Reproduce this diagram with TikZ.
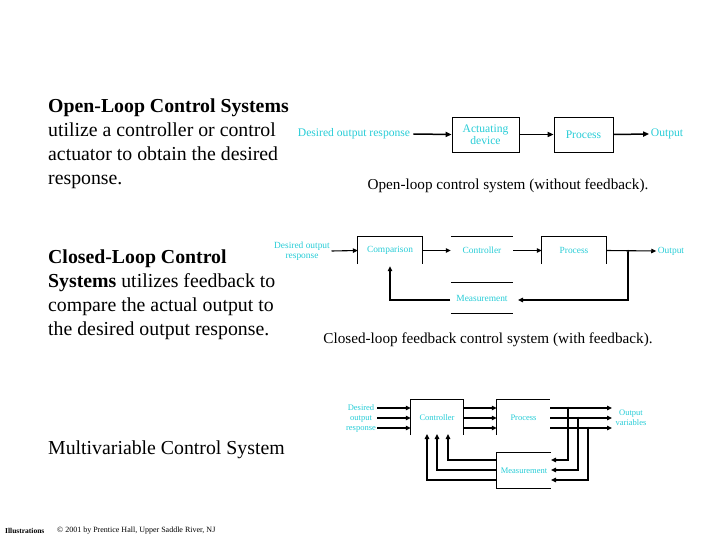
\documentclass[tikz,border=0pt]{standalone}
\usepackage{fontspec}
\setmainfont{Liberation Serif}
\usetikzlibrary{arrows.meta,calc}
\definecolor{lbl}{RGB}{40,205,215}
\begin{document}
\begin{tikzpicture}[x=1pt,y=-1pt,
  para/.style={anchor=north west,inner sep=0pt,align=left,font=\fontsize{19.8}{24}\selectfont},
  lab/.style={text=lbl,inner sep=1.5pt,align=center},
  labA/.style={lab,font=\fontsize{11.6}{12}\selectfont},
  labB/.style={lab,font=\fontsize{9.4}{10}\selectfont},
  labC/.style={lab,font=\fontsize{8.5}{10}\selectfont},
  captxt/.style={inner sep=0pt,font=\fontsize{15.2}{16}\selectfont},
  blk/.style={inner sep=0pt},
  arr/.style={line width=1.5pt,-{Triangle[length=6pt,width=5pt]}},
  arrt/.style={line width=1.1pt,-{Triangle[length=5pt,width=4.5pt]}},
  arrT/.style={line width=1.8pt,-{Triangle[length=5pt,width=4.5pt]}},
  bord/.style={line width=0.7pt},
  dotc/.style={circle,fill,inner sep=0pt,minimum size=3pt}
]
\useasboundingbox[fill=white] (0,0) rectangle (720,540);

% ---------- left texts ----------
\node[para] (t1) at (48,98.5) {\textbf{Open-Loop Control Systems}\\utilize a controller or control\\actuator to obtain the desired\\response.};
\node[para] (t2) at (48,249.5) {\textbf{Closed-Loop Control}\\\textbf{Systems} utilizes feedback to\\compare the actual output to\\the desired output response.};
\node[para] (t3) at (48,440.5) {Multivariable Control System};

% ---------- open loop ----------
\node[labA,inner sep=3pt] (odes) at (354,134) {Desired output response};
\node[blk,draw,bord,minimum width=67pt,minimum height=35pt] (oact) at (485.5,134.5) {};
\node[labA] at (oact) {Actuating\\device};
\node[blk,draw,bord,minimum width=59pt,minimum height=35pt] (oproc) at (583.5,134.5) {};
\node[labA] at (oproc) {Process};
\node[labA] (oout) at (667,134) {Output};
\draw[arr] (odes.east) -- (oact.west);
\draw[arr] (oact.east) -- (oproc.west);
\draw[arr] (oproc.east) -- (oout.west);
\node[captxt] (ocap) at (508,186) {Open-loop control system (without feedback).};

% ---------- closed loop ----------
\node[labB] (cdes) at (302,251) {Desired output\\response};
\node[blk,minimum width=64pt,minimum height=27pt] (ccmp) at (390,250.5) {};
\node[labB] at (ccmp) {Comparison};
\node[blk,minimum width=62pt,minimum height=27pt] (cctl) at (482,250.5) {};
\node[labB] at (cctl) {Controller};
\node[blk,minimum width=64pt,minimum height=27pt] (cproc) at (574,250.5) {};
\node[labB] at (cproc) {Process};
\node[labB] (cout) at (671,251) {Output};
\node[blk,minimum width=62pt,minimum height=30pt] (cmeas) at (482,298) {};
\node[labB] at (cmeas) {Measurement};
\draw[bord] (ccmp.south west) -- (ccmp.north west) -- (ccmp.north east) -- (ccmp.south east);
\draw[bord] (cctl.north west) -- (cctl.north east);
\draw[bord] (cproc.south west) -- (cproc.north west) -- (cproc.north east) -- (cproc.south east);
\draw[bord] (cmeas.north west) -- (cmeas.north east);
\draw[bord] (cmeas.south west) -- (cmeas.south east);
\node[dotc,minimum size=2.5pt] (cdot) at (628,251) {};
\draw[arrt] (cdes.east) -- (ccmp.west);
\draw[arrt] (ccmp.east) -- (cctl.west);
\draw[arrt] (cctl.east) -- (cproc.west);
\draw[arrt] (cproc.east) -- (cout.west);
\coordinate (cmr) at (518,300);
\draw[arrt] (cdot) |- (cmr);
\coordinate (cml) at (450,300);
\draw[arrt] (cml) -| ([yshift=-2pt]ccmp.south);
\node[captxt] (ccap) at (488,340) {Closed-loop feedback control system (with feedback).};

% ---------- multivariable ----------
\node[labC] (mdes) at (361,418) {Desired\\output\\response};
\node[blk,minimum width=52pt,minimum height=35pt] (mctl) at (437,417.5) {};
\node[labC] at (mctl) {Controller};
\node[blk,minimum width=53pt,minimum height=35pt] (mproc) at (523.5,417.5) {};
\node[labC] at (mproc) {Process};
\node[labC] (mout) at (631,418) {Output\\variables};
\node[blk,minimum width=54pt,minimum height=35pt] (mmeas) at (524,470.5) {};
\node[labC] at (mmeas) {Measurement};
\draw[bord] (mctl.south west) -- (mctl.north west) -- (mctl.north east) -- (mctl.south east);
\draw[bord] (mproc.south west) -- (mproc.north west) -- (mproc.north east);
\draw[bord] (mmeas.north east) -- (mmeas.north west) -- (mmeas.south west) -- (mmeas.south east);

\coordinate (i1) at (377,408); \coordinate (i2) at (377,418); \coordinate (i3) at (377,428);
\coordinate (o1) at (612,408); \coordinate (o2) at (612,418); \coordinate (o3) at (612,428);
\draw[arrt] (i1) -- (mctl.west |- i1);
\draw[arrt] (i2) -- (mctl.west |- i2);
\draw[arrT] (i3) -- (mctl.west |- i3);
\draw[arrt] (mctl.east |- i1) -- (mproc.west |- i1);
\draw[arrt] (mctl.east |- i2) -- (mproc.west |- i2);
\draw[arrT] (mctl.east |- i3) -- (mproc.west |- i3);
\draw[arrt] (mproc.east |- i1) -- (o1);
\draw[arrt] (mproc.east |- i2) -- (o2);
\draw[arrT] (mproc.east |- i3) -- (o3);
\node[dotc,minimum size=2.5pt] (d1) at (568,408) {};
\node[dotc,minimum size=2.5pt] (d2) at (578,418) {};
\node[dotc,minimum size=2.5pt] (d3) at (588,428) {};
\coordinate (m1) at (551,460); \coordinate (m2) at (551,470); \coordinate (m3) at (551,480);
\draw[arrT] (d1) |- (m1);
\draw[arrT] (d2) |- (m2);
\draw[arrt] (d3) |- (m3);
\coordinate (c1) at (448,434); \coordinate (c2) at (437,434); \coordinate (c3) at (427,434);
\draw[arrT] (mmeas.west |- m1) -| (c1);
\draw[arrT] (mmeas.west |- m2) -| (c2);
\draw[arrt] (mmeas.west |- m3) -| (c3);

% ---------- footer ----------
\node[inner sep=0pt,anchor=west,font=\fontsize{7.5}{8}\selectfont\bfseries] (f1) at (5,531) {Illustrations};
\node[inner sep=0pt,anchor=west,font=\fontsize{8}{8}\selectfont] (f2) at (57,531) {\textcopyright{} 2001 by Prentice Hall, Upper Saddle River, NJ};
\end{tikzpicture}
\end{document}
